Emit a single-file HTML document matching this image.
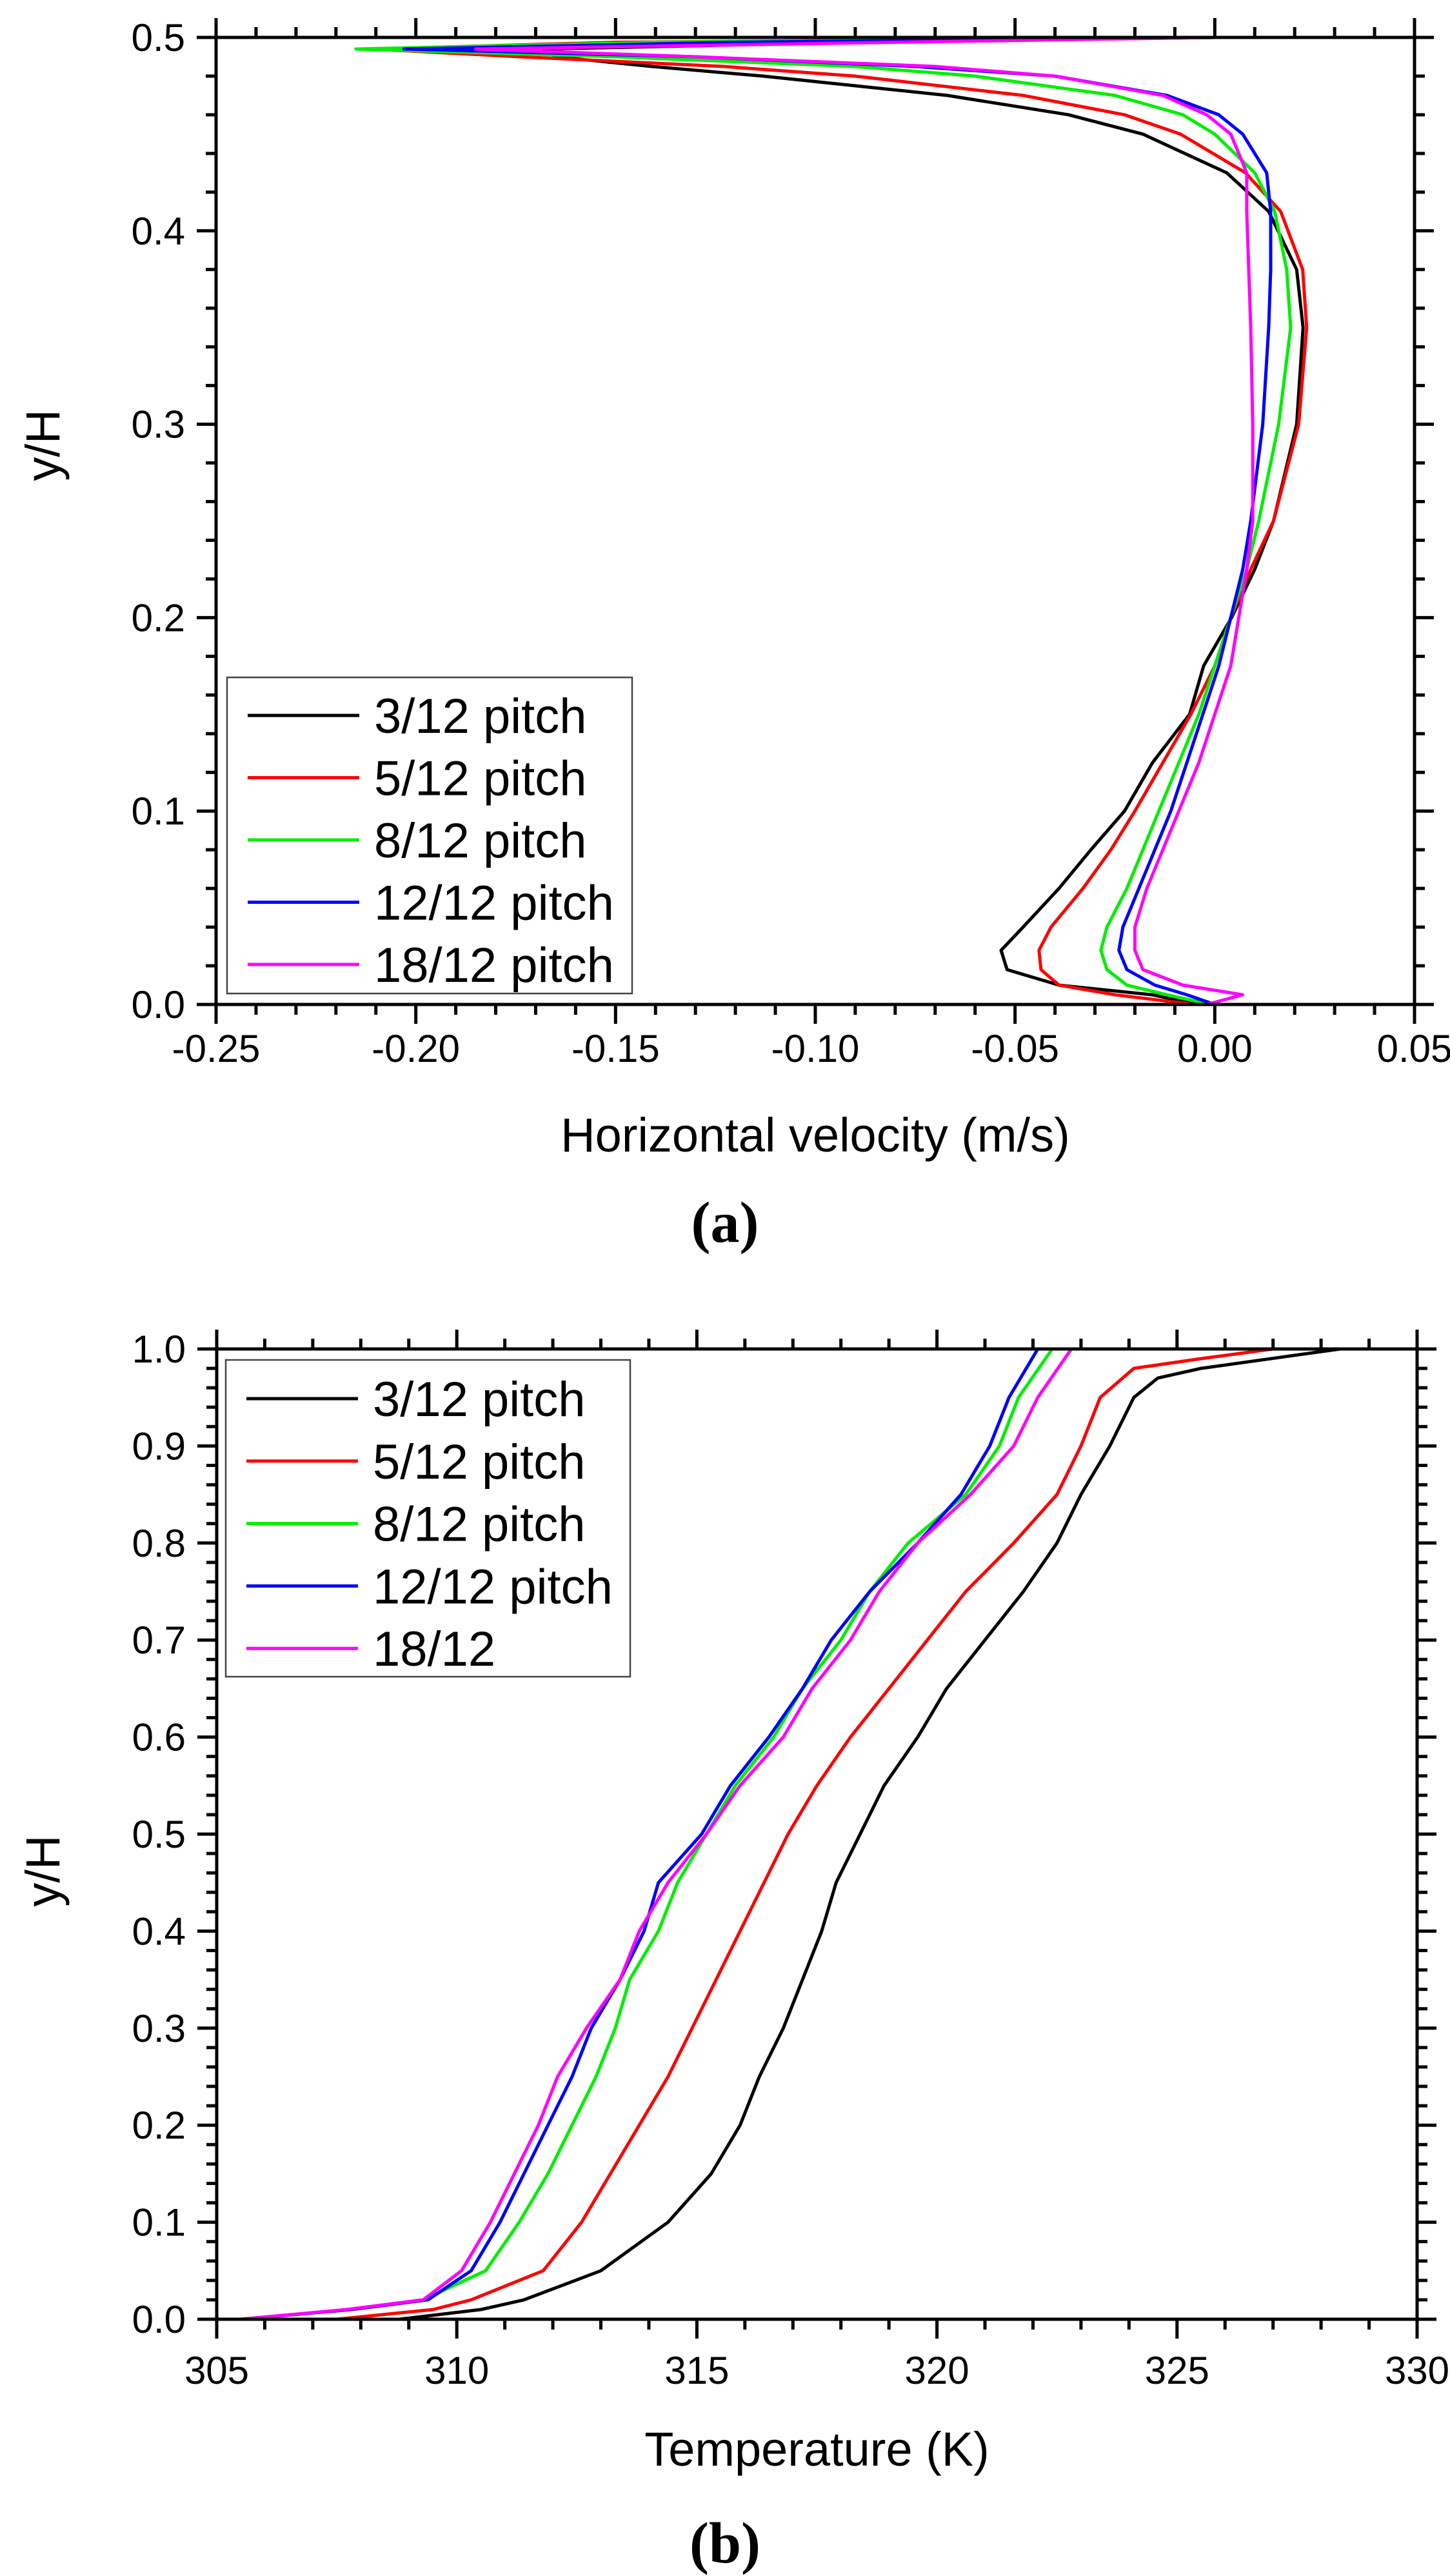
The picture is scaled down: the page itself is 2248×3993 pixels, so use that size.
<!DOCTYPE html>
<html><head><meta charset="utf-8"><style>
html,body{margin:0;padding:0;background:#fff;}
svg{display:block;font-family:"Liberation Sans",Arial,sans-serif;}
</style></head><body>
<svg id="fig" width="2248" height="3993" viewBox="0 0 2248 3993" xmlns="http://www.w3.org/2000/svg">
<rect width="2248" height="3993" fill="#fff"/>
<g id="chartA"></g>
<g id="chartB"></g>
<text x="1124" y="1925" font-family="Liberation Serif,serif" font-weight="bold" font-size="90" text-anchor="middle">(a)</text>
<text x="1124" y="3972" font-family="Liberation Serif,serif" font-weight="bold" font-size="90" text-anchor="middle">(b)</text>
</svg>
<script>
// ---- Chart A data ----
const seriesNames = ["3/12 pitch","5/12 pitch","8/12 pitch","12/12 pitch","18/12 pitch"];
const seriesNamesB = ["3/12 pitch","5/12 pitch","8/12 pitch","12/12 pitch","18/12"];
const colors = ["#000000","#ff0000","#00ee00","#0000ff","#ff00ff"];
const aY = [0,0.005,0.01,0.018,0.028,0.04,0.06,0.08,0.1,0.125,0.15,0.175,0.2,0.225,0.25,0.3,0.35,0.38,0.41,0.43,0.45,0.46,0.47,0.48,0.485,0.49,0.494,0.4975,0.5];
const aBlack = [-0.004,-0.0156,-0.039,-0.052,-0.0535,-0.048,-0.039,-0.031,-0.0226,-0.0156,-0.0063,-0.0028,0.0042,0.010,0.0147,0.0205,0.0221,0.0205,0.0135,0.003,-0.018,-0.0366,-0.067,-0.113,-0.141,-0.165,-0.168,-0.09,0.0];
const aRed = [-0.005,-0.025,-0.039,-0.0435,-0.044,-0.041,-0.033,-0.026,-0.020,-0.013,-0.006,0.0,0.004,0.009,0.0147,0.021,0.023,0.022,0.0165,0.0077,-0.0086,-0.0226,-0.048,-0.090,-0.123,-0.174,-0.211,-0.15,0.0];
const aGreen = [-0.001,-0.012,-0.022,-0.027,-0.0285,-0.027,-0.022,-0.018,-0.014,-0.009,-0.004,0.0,0.004,0.008,0.011,0.016,0.019,0.018,0.015,0.010,0.000,-0.008,-0.025,-0.060,-0.09,-0.15,-0.215,-0.14,0.0];
const aBlue = [0.0,-0.007,-0.015,-0.022,-0.024,-0.023,-0.019,-0.015,-0.011,-0.007,-0.003,0.001,0.004,0.007,0.009,0.012,0.0135,0.014,0.014,0.013,0.007,0.001,-0.012,-0.040,-0.075,-0.13,-0.203,-0.12,0.0];
const aMag = [-0.002,0.007,-0.008,-0.018,-0.020,-0.020,-0.017,-0.013,-0.009,-0.004,0.0,0.004,0.006,0.008,0.0095,0.0095,0.009,0.0085,0.008,0.008,0.004,-0.002,-0.013,-0.040,-0.07,-0.13,-0.185,-0.08,0.0];
const aXTicks = [-0.25,-0.20,-0.15,-0.10,-0.05,0.00,0.05];
const aXLabels = ["-0.25","-0.20","-0.15","-0.10","-0.05","0.00","0.05"];
const aYTicks = [0,0.1,0.2,0.3,0.4,0.5];
const aYLabels = ["0.0","0.1","0.2","0.3","0.4","0.5"];
// ---- Chart B data ----
const bYBlack = [0,0.01,0.02,0.05,0.1,0.15,0.2,0.25,0.3,0.35,0.4,0.45,0.5,0.55,0.6,0.65,0.7,0.75,0.8,0.85,0.9,0.95,0.97,0.98,1.0];
const bBlack = [308.8,310.5,311.4,313.0,314.4,315.3,315.9,316.3,316.8,317.2,317.6,317.9,318.4,318.9,319.6,320.2,321.0,321.8,322.5,323.0,323.6,324.1,324.6,325.5,328.4];
const bYRed = [0,0.01,0.02,0.05,0.1,0.15,0.2,0.25,0.3,0.35,0.4,0.45,0.5,0.55,0.6,0.65,0.7,0.75,0.8,0.85,0.9,0.95,0.98,0.99,1.0];
const bRed = [307.5,309.5,310.3,311.8,312.6,313.2,313.8,314.4,314.9,315.4,315.9,316.4,316.9,317.5,318.2,319.0,319.8,320.6,321.6,322.5,323.0,323.4,324.1,325.5,327.0];
const bY = [0,0.01,0.02,0.05,0.1,0.15,0.2,0.25,0.3,0.35,0.4,0.45,0.5,0.55,0.6,0.65,0.7,0.75,0.8,0.85,0.9,0.95,1.0];
const bGreen = [305.5,307.8,309.3,310.6,311.3,311.9,312.4,312.9,313.3,313.6,314.2,314.6,315.2,315.8,316.6,317.2,318.0,318.6,319.4,320.6,321.3,321.7,322.4];
const bBlue = [305.5,307.8,309.4,310.3,310.9,311.4,311.9,312.4,312.8,313.4,313.9,314.2,315.1,315.7,316.5,317.2,317.8,318.6,319.6,320.5,321.1,321.5,322.1];
const bMag = [305.5,307.7,309.3,310.1,310.7,311.2,311.7,312.1,312.7,313.4,313.8,314.4,315.2,315.9,316.8,317.4,318.2,318.8,319.6,320.7,321.6,322.1,322.8];
const bXTicks = [305,310,315,320,325,330];
const bXLabels = ["305","310","315","320","325","330"];
const bYTicks = [0,0.1,0.2,0.3,0.4,0.5,0.6,0.7,0.8,0.9,1.0];
const bYLabels = ["0.0","0.1","0.2","0.3","0.4","0.5","0.6","0.7","0.8","0.9","1.0"];

const NS="http://www.w3.org/2000/svg";
function mk(parent,tag,attrs,txt){const e=document.createElementNS(NS,tag);for(const k in attrs)e.setAttribute(k,attrs[k]);if(txt!==undefined)e.textContent=txt;parent.appendChild(e);return e;}

function drawChart(g,cfg){
  const {L,R,T,B,xmin,xmax,ymin,ymax}=cfg;
  const sx=v=>L+(v-xmin)/(xmax-xmin)*(R-L);
  const sy=v=>B-(v-ymin)/(ymax-ymin)*(B-T);
  // clip
  const cid="clip"+g.id;
  const defs=mk(g,"defs",{});
  const cp=mk(defs,"clipPath",{id:cid});
  mk(cp,"rect",{x:L-10,y:T-3,width:R-L+20,height:B-T+6});
  // series
  const sg=mk(g,"g",{"clip-path":"url(#"+cid+")"});
  cfg.series.forEach((s,i)=>{
    const d=s.x.map((v,j)=>(j?"L":"M")+sx(v).toFixed(1)+","+sy(s.y[j]).toFixed(1)).join(" ");
    const p=mk(sg,"path",{d:d,fill:"none",stroke:colors[i],"stroke-width":5,"stroke-linejoin":"round"});
    
    
  });
  // frame
  const fr=mk(g,"rect",{x:L,y:T,width:R-L,height:B-T,fill:"none",stroke:"#000","stroke-width":5});
  
  
  // ticks
  const tg=mk(g,"g",{stroke:"#000","stroke-width":5});
  const xminorStep=cfg.xMinor, yminorStep=cfg.yMinor;
  for(let k=0;;k++){const v=xmin+k*xminorStep;if(v>xmax+1e-9)break;
    const major=cfg.xTicks.some(t=>Math.abs(t-v)<1e-9);const len=major?30:16;const x=sx(v);
    mk(tg,"line",{x1:x,y1:B,x2:x,y2:B+len});mk(tg,"line",{x1:x,y1:T,x2:x,y2:T-len});}
  for(let k=0;;k++){const v=ymin+k*yminorStep;if(v>ymax+1e-9)break;
    const major=cfg.yTicks.some(t=>Math.abs(t-v)<1e-9);const len=major?30:16;const y=sy(v);
    mk(tg,"line",{x1:L,y1:y,x2:L-len,y2:y});mk(tg,"line",{x1:R,y1:y,x2:R+len,y2:y});}
  cfg.xTicks.forEach((v,i)=>{const t=mk(g,"text",{x:sx(v),y:cfg.xLabelY,"font-size":60,"text-anchor":"middle"},cfg.xLabels[i]);
    
    });
  cfg.yTicks.forEach((v,i)=>{const t=mk(g,"text",{x:L-48,y:sy(v)+21,"font-size":60,"text-anchor":"end"},cfg.yLabels[i]);
    
    });
  const xt=mk(g,"text",{x:(L+R)/2,y:cfg.xTitleY,"font-size":74,"text-anchor":"middle"},cfg.xTitle);
  
  
  const yt=mk(g,"text",{x:0,y:0,"font-size":74,"text-anchor":"middle",transform:"translate(92,"+cfg.yTitleY+") rotate(-90)"},"y/H");
  
  
  // legend
  const lg=mk(g,"g",{});
  
  
  const lb=cfg.legend;
  mk(lg,"rect",{x:lb.x,y:lb.y,width:lb.w,height:lb.h,fill:"#fff",stroke:"#444","stroke-width":2.5});
  cfg.names.forEach((n,i)=>{const y=lb.y0+i*lb.dy;
    const e=mk(lg,"g",{});
    
    
    mk(e,"line",{x1:lb.x+32,y1:y,x2:lb.x+205,y2:y,stroke:colors[i],"stroke-width":5});
    mk(e,"text",{x:lb.x+228,y:y+27,"font-size":76},n);});
}

drawChart(document.getElementById("chartA"),{
  L:335,R:2193,T:58,B:1557,xmin:-0.25,xmax:0.05,ymin:0,ymax:0.5,xMinor:0.01,yMinor:0.02,
  xTicks:aXTicks,xLabels:aXLabels,yTicks:aYTicks,yLabels:aYLabels,xLabelY:1646,xTitleY:1785,xTitle:"Horizontal velocity (m/s)",yTitleY:690,
  names:seriesNames,
  series:[{x:aBlack,y:aY},{x:aRed,y:aY},{x:aGreen,y:aY},{x:aBlue,y:aY},{x:aMag,y:aY}],
  legend:{x:352,y:1050,w:628,h:490,y0:1109,dy:96.5}
});
drawChart(document.getElementById("chartB"),{
  L:336,R:2197,T:2091,B:3595,xmin:305,xmax:330,ymin:0,ymax:1,xMinor:1,yMinor:0.02,
  xTicks:bXTicks,xLabels:bXLabels,yTicks:bYTicks,yLabels:bYLabels,xLabelY:3695,xTitleY:3822,xTitle:"Temperature (K)",yTitleY:2900,
  names:seriesNamesB,
  series:[{x:bBlack,y:bYBlack},{x:bRed,y:bYRed},{x:bGreen,y:bY},{x:bBlue,y:bY},{x:bMag,y:bY}],
  legend:{x:350,y:2108,w:627,h:491,y0:2168,dy:96.8}
});
</script>
</body></html>
